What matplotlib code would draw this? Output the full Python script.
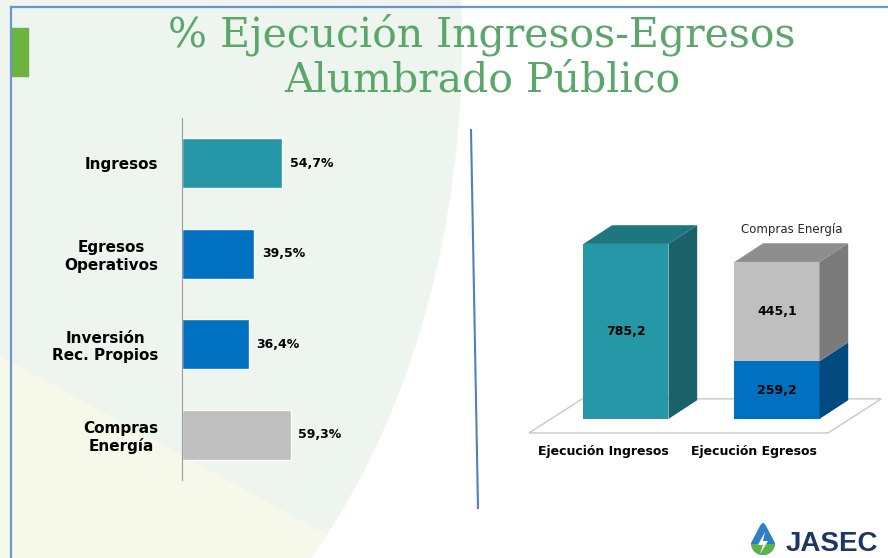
import numpy as np
import matplotlib.pyplot as plt
from matplotlib.patches import Polygon, Ellipse, Rectangle

# datos barra horizontal (% ejecución)
categorias = ['Ingresos', 'Egresos\nOperativos', 'Inversión\nRec. Propios', 'Compras\nEnergía']
porcentajes = [54.7, 39.5, 36.4, 59.3]
colores_barra = ['#2597a6', '#0070c0', '#0070c0', '#bfbfbf']

# datos columnas 3D (millones)
columnas = ['Ejecución Ingresos', 'Ejecución Egresos']
ejec_ingresos = 785.2
egresos_operativos = 259.2
compras_energia = 445.1


def coma(v, suf=''):
    return f'{v:.1f}'.replace('.', ',') + suf


W, H = 888, 558
fig = plt.figure(figsize=(W / 100, H / 100), dpi=100)

# fondo de la diapositiva
bg = fig.add_axes([0, 0, 1, 1])
bg.set_xlim(0, W)
bg.set_ylim(H, 0)
bg.axis('off')
elipse = Ellipse((0, 40), 2 * 462, 2 * 700, facecolor='#edf5ee', edgecolor='none')
bg.add_patch(elipse)
amarillo = Polygon([(0, 356), (520, 640), (0, 640)], facecolor='#f6f9ea', edgecolor='none')
bg.add_patch(amarillo)
amarillo.set_clip_path(elipse)
bg.plot([11, 11], [7, H], color='#6b96d2', lw=1.6)
bg.plot([11, W], [7, 7], color='#6b96d2', lw=1.6)
bg.add_patch(Rectangle((12, 28), 16, 48, color='#6cb33f'))
bg.plot([471, 478], [130, 508], color='#4f7fc6', lw=1.5)

# titulo
bg.text(482, 47, '% Ejecución Ingresos-Egresos', ha='center', va='baseline',
        fontsize=29.5, family='DejaVu Serif', color='#5ba66b')
bg.text(482, 91, 'Alumbrado Público', ha='center', va='baseline',
        fontsize=29.5, family='DejaVu Serif', color='#5ba66b')

# logo
t = np.linspace(0, 2 * np.pi, 80)
gx = 763 + 12 * np.sin(t) * (1 - 0.5 * np.clip(np.cos(t), 0, 1))
gy = 543 - 12 * np.cos(t) - 8 * np.clip(np.cos(t), 0, 1) ** 2
gota = Polygon(np.column_stack([gx, gy]), facecolor='#2f7fc4', edgecolor='none')
bg.add_patch(gota)
verde = Rectangle((740, 544), 50, 20, facecolor='#5cb346', edgecolor='none')
bg.add_patch(verde)
verde.set_clip_path(gota)
bg.add_patch(Polygon([(765, 532), (758, 545), (763, 545), (760, 554), (768, 541), (763, 541)],
                     facecolor='white', edgecolor='none'))
bg.text(786, 544, 'JASEC', ha='left', va='center', fontsize=20, fontweight='bold',
        family='Liberation Sans', color='#1d3763')

# grafico de barras horizontales
axL = fig.add_axes([182 / W, 1 - 480 / H, 278 / W, 362 / H])
axL.set_facecolor('none')
y = np.arange(len(categorias))
axL.barh(y, porcentajes, height=0.55, color=colores_barra, edgecolor='white', linewidth=1)
axL.set_ylim(3.5, -0.5)
axL.set_xlim(0, 278 / 1.83)
for s in ['top', 'right', 'bottom']:
    axL.spines[s].set_visible(False)
axL.spines['left'].set_color('#9a9a9a')
axL.set_xticks([])
axL.set_yticks(y, categorias, fontsize=11, fontweight='bold')
axL.tick_params(axis='y', length=0, pad=17)
for lab in axL.get_yticklabels():
    lab.set_multialignment('center')
for i, v in enumerate(porcentajes):
    axL.text(v + 4.3, i, coma(v, '%'), va='center', ha='left', fontsize=9, fontweight='bold')

# grafico de columnas 3D
axR = fig.add_axes([500 / W, 1 - 480 / H, 388 / W, 265 / H])
axR.set_facecolor('none')
axR.set_xlim(-0.834, 1.735)
axR.set_ylim(-274, 915)
axR.axis('off')

ancho = 0.563
dx, dy = 0.19, 84


def caja(ax, xc, y0, y1, frente, lado, techo=None):
    x0, x1 = xc - ancho / 2, xc + ancho / 2
    ax.add_patch(Polygon([(x0, y0), (x1, y0), (x1, y1), (x0, y1)], facecolor=frente, edgecolor='none'))
    ax.add_patch(Polygon([(x1, y0), (x1 + dx, y0 + dy), (x1 + dx, y1 + dy), (x1, y1)],
                         facecolor=lado, edgecolor='none'))
    if techo:
        ax.add_patch(Polygon([(x0, y1), (x0 + dx, y1 + dy), (x1 + dx, y1 + dy), (x1, y1)],
                             facecolor=techo, edgecolor='none'))


# piso
axR.add_patch(Polygon([(-0.642, -63), (1.338, -63), (1.69, 90), (-0.29, 90)],
                      facecolor='white', edgecolor='#c8c8c8', lw=1))

caja(axR, 0, 0, ejec_ingresos, '#2597a6', '#1a6169', '#1e7680')
caja(axR, 1, 0, egresos_operativos, '#0070c0', '#004a80')
total = egresos_operativos + compras_energia
caja(axR, 1, egresos_operativos, total, '#bfbfbf', '#7b7b7b', '#8e8e8e')

axR.text(0, ejec_ingresos / 2, coma(ejec_ingresos), ha='center', va='center', fontsize=9, fontweight='bold')
axR.text(1, egresos_operativos / 2, coma(egresos_operativos), ha='center', va='center',
         fontsize=9, fontweight='bold')
axR.text(1, egresos_operativos + compras_energia / 2, coma(compras_energia), ha='center', va='center',
         fontsize=9, fontweight='bold')
axR.text(1.1, total + dy + 62, 'Compras Energía', ha='center', va='center', fontsize=8.5, color='#262626')
for i, c in enumerate(columnas):
    axR.text(i - 0.15, -148, c, ha='center', va='center', fontsize=9, fontweight='bold')

fig.savefig('out.png', dpi=100)
